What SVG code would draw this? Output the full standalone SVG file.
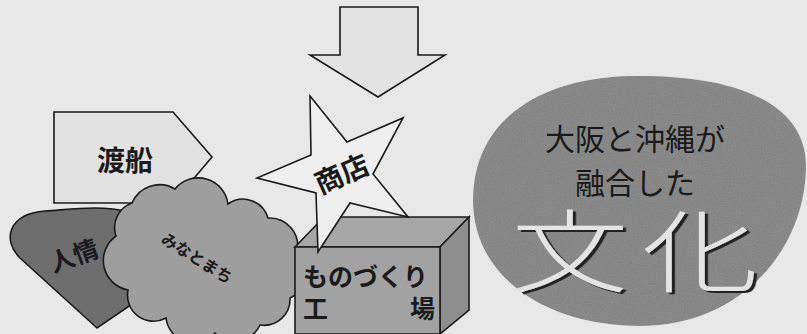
<svg xmlns="http://www.w3.org/2000/svg" width="807" height="334" viewBox="0 0 807 334">
<defs>
<filter id="grain" x="0" y="0" width="100%" height="100%">
<feTurbulence type="fractalNoise" baseFrequency="0.9" numOctaves="2" seed="3" result="n"/>
<feColorMatrix in="n" type="saturate" values="0" result="g"/>
<feComponentTransfer in="g" result="gm"><feFuncR type="linear" slope="0.35" intercept="0.72"/><feFuncG type="linear" slope="0.35" intercept="0.72"/><feFuncB type="linear" slope="0.35" intercept="0.72"/><feFuncA type="linear" slope="0" intercept="1"/></feComponentTransfer>
<feComposite in="gm" in2="SourceGraphic" operator="in" result="gi"/>
<feBlend in="SourceGraphic" in2="gi" mode="multiply"/>
</filter>
<filter id="emboss" x="-10%" y="-10%" width="130%" height="130%">
<feDropShadow dx="2.5" dy="2" stdDeviation="0.5" flood-color="#222" flood-opacity="1"/>
</filter>
</defs>
<style>
.ln{stroke:#1a1a1a;stroke-width:1.6;stroke-linejoin:miter}
.t{font-family:"Noto Sans CJK JP","Noto Sans",sans-serif;fill:#1a1a1a}
.c{font-family:"Liberation Sans","Noto Sans CJK JP",sans-serif;fill:#1a1a1a}
.b{font-weight:bold}
.big{font-family:"Liberation Sans","Noto Sans CJK JP",sans-serif;font-weight:300;font-size:90px;fill:#e4e4e4}
</style>
<rect width="807" height="334" fill="#e8e8e8"/>
<g id="down-arrow">
<polygon class="ln" points="340,7 418,7 418,55 445,55 378,97 310,55 340,55" fill="#e3e3e3"/>
</g>
<g id="tosen">
<polygon class="ln" points="54,112 173,112 212,157 173,203 54,203" fill="#e2e2e2"/>
<text class="t b" x="125" y="171" font-size="28" text-anchor="middle">渡船</text>
</g>
<g id="ninjo">
<path class="ln" d="M97,328 L20,258 C2,240 8,214 45,211 C75,209 100,205 130,212 L150,292 Z" fill="#6e6e6e"/>
<text class="t b" x="74" y="265" font-size="25" text-anchor="middle" transform="rotate(-20 74 256)">人情</text>
</g>
<g id="minatomachi">
<path class="ln" d="M116,236 A26,26 0 0 1 132,203 A30,30 0 0 1 175,189 A30,30 0 0 1 228,204 A26,26 0 0 1 268,218 A28,28 0 0 1 297,252 A28,28 0 0 1 290,298 A26,26 0 0 1 260,325 A28,28 0 0 1 215,333 A28,28 0 0 1 166,318 A26,26 0 0 1 128,290 A30,30 0 0 1 116,236 Z" fill="#9e9e9e"/>
<text class="t b" x="197" y="264" font-size="16" text-anchor="middle" transform="rotate(32 197 258)">みなとまち</text>
</g>
<g id="monozukuri">
<polygon class="ln" points="295,247 324,217 469,217 440,247" fill="#a6a6a6"/>
<polygon class="ln" points="440,247 469,217 469,310 440,334" fill="#8e8e8e"/>
<polygon class="ln" points="295,247 440,247 440,334 295,334" fill="#a2a2a2"/>
<text class="c b" x="303" y="286" font-size="25">ものづくり</text>
<text class="c b" x="303" y="318" font-size="25">工</text>
<text class="c b" x="410" y="318" font-size="25">場</text>
</g>
<g id="shoten">
<polygon class="ln" points="310,96 347,142 403,118 373,174 408,217 350,203 318,252 316,193 257,178 311,155" fill="#efefef"/>
<text class="t b" x="342" y="184" font-size="28" text-anchor="middle" transform="rotate(-24 342 174)">商店</text>
</g>
<g id="bunka">
<path d="M473,200 C473,120 540,78 630,76 C730,74 805,100 806,165 C806,250 740,326 640,326 C550,326 473,280 473,200 Z" fill="#8f8f8f" filter="url(#grain)"/>
<text class="c" x="635" y="150" font-size="30" text-anchor="middle">大阪と沖縄が</text>
<text class="c" x="635" y="194" font-size="30" text-anchor="middle">融合した</text>
<g transform="translate(570,285) scale(1.3,1)" filter="url(#emboss)"><text class="big" x="0" y="0" text-anchor="middle">文</text></g>
<g transform="translate(700,285) scale(1.3,1)" filter="url(#emboss)"><text class="big" x="0" y="0" text-anchor="middle">化</text></g>
</g>
</svg>
